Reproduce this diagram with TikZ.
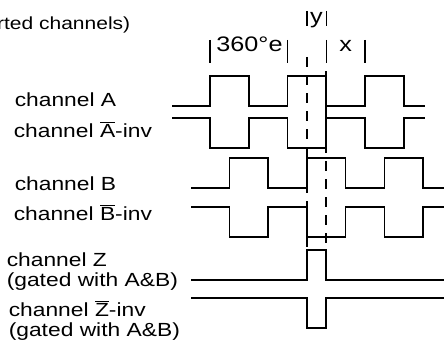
\documentclass[tikz,border=0pt]{standalone}
\usepackage{fontspec}
\setmainfont{Liberation Sans}[FakeStretch=1.2]

\begin{document}
\begin{tikzpicture}[x=1pt,y=-1pt,line width=1.6pt,
    every node/.style={inner sep=0pt,anchor=base west,font=\fontsize{19}{22}\selectfont},
    measure/.style={anchor=base,font=\fontsize{21}{24}\selectfont},
    wave/.style={line join=miter},
    tickbar/.style={line width=1.3pt},
    guide/.style={dash pattern=on 10pt off 8pt}]
      \useasboundingbox (0,0) rectangle (444,345);
      \pgfmathsetmacro\period{77.5}
      % labels on the left
      \node[anchor=base east,font=\fontsize{17.5}{20}\selectfont] (title) at (131,30) {rted channels)};
      \node (chA) at (14,106) {channel A};
      \node (chAinv) at (13,137) {channel $\overline{\mbox{A}}$-inv};
      \node (chB) at (14,190) {channel B};
      \node (chBinv) at (13,220) {channel $\overline{\mbox{B}}$-inv};
      \node (chZ) at (6,266) {channel Z};
      \node (gateZ) at (6,286) {(gated with A\&B)};
      \node (chZinv) at (8,316) {channel $\overline{\mbox{Z}}$-inv};
      \node (gateZinv) at (8,336) {(gated with A\&B)};
      % channel A and its inverse
      \draw[wave] (172,106) \foreach \k in {0,1,2} {
          -- ({210+\period*\k},106) -- ({210+\period*\k},76)
          -- ({248.75+\period*\k},76) -- ({248.75+\period*\k},106)} -- (425,106);
      \draw[wave] (172,118) \foreach \k in {0,1,2} {
          -- ({210+\period*\k},118) -- ({210+\period*\k},148)
          -- ({248.75+\period*\k},148) -- ({248.75+\period*\k},118)} -- (425,118);
      % channel B (90 degrees later) and its inverse
      \draw[wave] (191,188) \foreach \k in {0,1,2} {
          -- ({229.4+\period*\k},188) -- ({229.4+\period*\k},158)
          -- ({268.1+\period*\k},158) -- ({268.1+\period*\k},188)} -- (445,188);
      \draw[wave] (191,207) \foreach \k in {0,1,2} {
          -- ({229.4+\period*\k},207) -- ({229.4+\period*\k},237)
          -- ({268.1+\period*\k},237) -- ({268.1+\period*\k},207)} -- (445,207);
      % index pulse
      \draw[wave] (191,280) -- (306.9,280) -- (306.9,250) -- (326.25,250) -- (326.25,280) -- (445,280);
      \draw[wave] (191,298) -- (306.9,298) -- (306.9,328) -- (326.25,328) -- (326.25,298) -- (445,298);
      % dashed guides
      \draw[guide] (306.9,57) -- (306.9,250);
      \draw[guide] (326.25,71) -- (326.25,250);
      % measures on top
      \foreach \x in {210,287.5,326.25,365}
        \draw[tickbar] (\x,40) -- (\x,63);
      \foreach \x in {306.9,326.25}
        \draw[tickbar] (\x,11) -- (\x,26);
      \node[measure] (deg) at (249.5,52) {360°e};
      \node[measure] (xlab) at (345.6,52) {x};
      \node[measure] (ylab) at (316.5,24) {y};
\end{tikzpicture}
\end{document}
